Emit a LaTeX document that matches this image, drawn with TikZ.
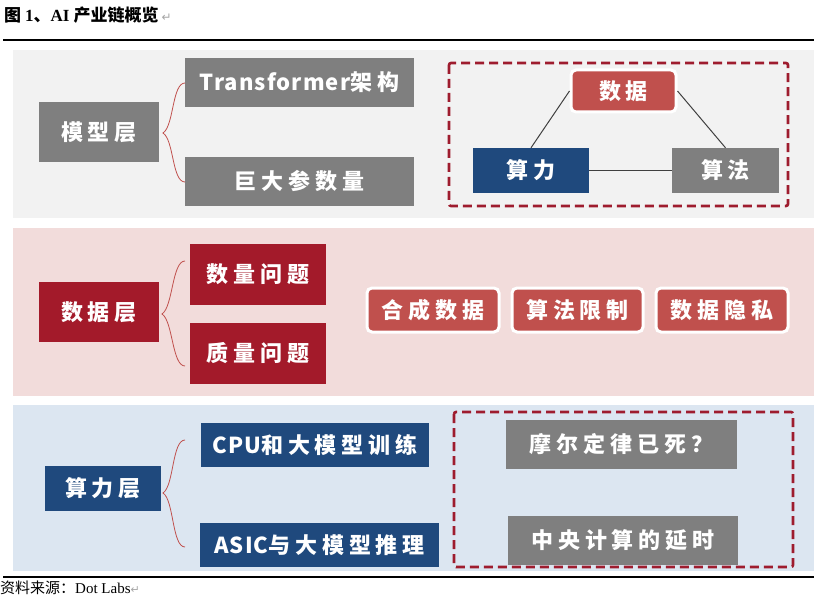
\documentclass[tikz,border=0pt]{standalone}
\usepackage{fontspec}
\newfontfamily\cjk{Noto Sans CJK SC}[LetterSpace=22]
\newfontfamily\cjkplain{Noto Sans CJK SC}
\newfontfamily\tnr{Liberation Serif}
\newfontfamily\dvs{DejaVu Sans}
\definecolor{pgrey}{HTML}{F2F2F2}
\definecolor{ppink}{HTML}{F2DCDB}
\definecolor{pblue}{HTML}{DCE6F1}
\definecolor{boxgrey}{HTML}{7F7F7F}
\definecolor{boxblue}{HTML}{1F497D}
\definecolor{boxdred}{HTML}{A31A2A}
\definecolor{boxred}{HTML}{C0504D}
\definecolor{dashred}{HTML}{9E1C2E}
\definecolor{markgrey}{HTML}{A6A6A6}
\newcommand\lat[1]{{\addfontfeature{LetterSpace=5}#1}}
\tikzset{
  basebox/.style={inner sep=0pt, text=white, font=\cjk\bfseries\fontsize{22}{26}\selectfont},
  greybox/.style={basebox, fill=boxgrey},
  bluebox/.style={basebox, fill=boxblue},
  dredbox/.style={basebox, fill=boxdred},
  redround/.style={basebox, fill=boxred, draw=white, line width=3pt, rounded corners=5pt},
  bracecurve/.style={draw=boxred, line width=0.8pt},
  dashframe/.style={draw=dashred, line width=2.6pt, dash pattern=on 9pt off 5pt, rounded corners=2pt},
  tri/.style={draw=black!75, line width=1pt},
  rule/.style={draw=black, line width=1.2pt}
}
\begin{document}
\begin{tikzpicture}[x=1pt,y=-1pt]
\useasboundingbox (0,0) rectangle (814,596);
% title
\node[anchor=west, inner sep=0pt, font=\fontsize{17}{20}\selectfont] (title) at (4,15)
  {\cjkplain\bfseries 图 \tnr\bfseries 1\cjkplain\bfseries 、\tnr\bfseries AI \cjkplain\bfseries 产业链概览\,{\dvs\mdseries\color{markgrey}\fontsize{12}{13}\selectfont ↵}};
\draw[rule] (3,40) -- (814,40);
% panels
\fill[pgrey] (13,50) rectangle (814,218);
\fill[ppink] (13,228) rectangle (814,396);
\fill[pblue] (13,405) rectangle (814,571);
\draw[rule] (3,577) -- (814,577);
% source
\node[anchor=west, inner sep=0pt, font=\fontsize{15}{17}\selectfont] (src) at (0,588)
  {\cjkplain 资料来源：\tnr Dot Labs{\dvs\color{markgrey}\fontsize{11}{12}\selectfont ↵}};

% ---------- panel 1 ----------
\node[greybox, minimum width=120pt, minimum height=60pt] (model) at (99,132) {模型层};
\node[greybox, minimum width=229pt, minimum height=49pt] (trans) at (299.5,82.5) {\lat{Transformer}架构};
\node[greybox, minimum width=229pt, minimum height=49pt] (param) at (299.5,181.5) {巨大参数量};
\coordinate (b1t) at (185,83);
\coordinate (b1m) at (163,133);
\coordinate (b1b) at (185,182);
\draw[bracecurve] (b1t) .. controls +(-13,0) and +(11,-7) .. (b1m) .. controls +(11,7) and +(-13,0) .. (b1b);
\draw[dashframe] (449,63) rectangle (788,206);
\node[redround, minimum width=105pt, minimum height=42pt] (shuju) at (623.5,91) {数据};
\node[bluebox, minimum width=116pt, minimum height=45pt] (suanli) at (531,170.5) {算力};
\node[greybox, minimum width=107pt, minimum height=45pt] (suanfa) at (725.5,170.5) {算法};
\draw[tri] (shuju.west) -- (suanli.north);
\draw[tri] (shuju.east) -- (suanfa.north);
\draw[tri] (suanli.east) -- (suanfa.west);

% ---------- panel 2 ----------
\node[dredbox, minimum width=120pt, minimum height=60pt] (datalayer) at (99,312) {数据层};
\node[dredbox, minimum width=136pt, minimum height=61pt] (qty) at (258,274.5) {数量问题};
\node[dredbox, minimum width=136pt, minimum height=61pt] (qual) at (258,353.5) {质量问题};
\coordinate (b2t) at (185,261);
\coordinate (b2m) at (162,314);
\coordinate (b2b) at (185,366);
\draw[bracecurve] (b2t) .. controls +(-13,0) and +(11,-7) .. (b2m) .. controls +(11,7) and +(-13,0) .. (b2b);
\node[redround, minimum width=132pt, minimum height=44pt] (hecheng) at (433,310) {合成数据};
\node[redround, minimum width=131pt, minimum height=44pt] (xianzhi) at (577.5,310) {算法限制};
\node[redround, minimum width=132pt, minimum height=44pt] (yinsi) at (722,310) {数据隐私};

% ---------- panel 3 ----------
\node[bluebox, minimum width=116pt, minimum height=45pt] (complayer) at (103,488.5) {算力层};
\node[bluebox, minimum width=228pt, minimum height=44pt] (cpu) at (315,445) {\lat{CPU}和大模型训练};
\node[bluebox, minimum width=239pt, minimum height=44pt] (asic) at (319.5,545) {\lat{ASIC}与大模型推理};
\coordinate (b3t) at (185,440);
\coordinate (b3m) at (163,493);
\coordinate (b3b) at (185,547);
\draw[bracecurve] (b3t) .. controls +(-13,0) and +(11,-7) .. (b3m) .. controls +(11,7) and +(-13,0) .. (b3b);
\draw[dashframe] (454,412) rectangle (793,567);
\node[greybox, minimum width=231pt, minimum height=49pt] (moore) at (621.5,444.5) {摩尔定律已死？};
\node[greybox, minimum width=230pt, minimum height=49pt] (delay) at (623,540.5) {中央计算的延时};
\end{tikzpicture}
\end{document}
